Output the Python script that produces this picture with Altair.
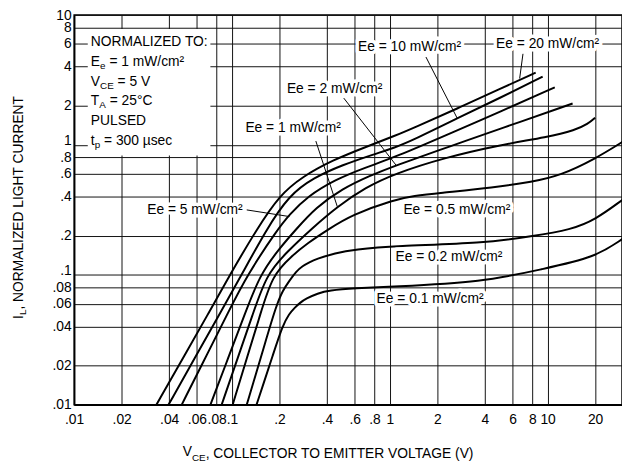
import altair as alt
import pandas as pd

FONT = "Liberation Sans, Arial, Helvetica, sans-serif"

# ---------------- axis ticks ----------------
x_ticks = [0.01, 0.02, 0.04, 0.06, 0.08, 0.1, 0.2, 0.4, 0.6, 0.8, 1, 2, 4, 6, 8, 10, 20]
y_ticks = [0.01, 0.02, 0.04, 0.06, 0.08, 0.1, 0.2, 0.4, 0.6, 0.8, 1, 2, 4, 6, 8, 10]

# ---------------- curves (VCE in V, normalized IL) ----------------
ee_names = ["20", "10", "5", "2", "1", "0.5", "0.2", "0.1"]

vce_20 = [0.0332, 0.05, 0.07, 0.097, 0.143, 0.2, 0.28, 0.43, 0.73, 1.07, 1.43, 2.67, 5.0, 8.4]
il_20 = [0.01, 0.024, 0.049, 0.1, 0.223, 0.41, 0.57, 0.76, 0.98, 1.17, 1.36, 1.9, 2.7, 3.6]

vce_10 = [0.0396, 0.06, 0.085, 0.115, 0.165, 0.23, 0.33, 0.5, 0.8, 1.07, 1.43, 2.67, 5.0, 9.3]
il_10 = [0.01, 0.0245, 0.052, 0.1, 0.223, 0.41, 0.56, 0.70, 0.85, 0.95, 1.1, 1.6, 2.3, 3.35]

vce_5 = [0.048, 0.07, 0.095, 0.125, 0.194, 0.231, 0.3, 0.45, 0.7, 1.07, 2.5, 5.0, 11.1]
il_5 = [0.01, 0.0248, 0.052, 0.1, 0.223, 0.29, 0.40, 0.54, 0.67, 0.80, 1.25, 1.8, 2.77]

vce_2 = [0.073, 0.095, 0.12, 0.15, 0.2, 0.254, 0.34, 0.5, 0.75, 1.07, 2.5, 5.0, 14.4]
il_2 = [0.01, 0.0232, 0.049, 0.1, 0.16, 0.223, 0.33, 0.46, 0.58, 0.69, 0.99, 1.33, 2.08]

vce_1 = [0.086, 0.11, 0.135, 0.165, 0.22, 0.324, 0.465, 0.7, 1.07, 2.24, 5.0, 10.0, 15.0, 18.0, 20.0]
il_1 = [0.01, 0.0239, 0.049, 0.1, 0.148, 0.23, 0.335, 0.47, 0.6, 0.8, 1.0, 1.15, 1.3, 1.45, 1.62]

vce_05 = [0.101, 0.125, 0.15, 0.18, 0.24, 0.3, 0.41, 0.575, 1.07, 1.43, 2.0, 4.6, 8.0, 12.0, 20.0, 30.0]
il_05 = [0.01, 0.0234, 0.048, 0.1, 0.14, 0.175, 0.225, 0.29, 0.38, 0.405, 0.425, 0.47, 0.52, 0.58, 0.78, 1.06]

vce_02 = [0.124, 0.14, 0.16, 0.191, 0.21, 0.231, 0.255, 0.28, 0.31, 0.34, 0.45, 0.6, 1.07, 3.92, 8.0, 14.1, 20.0, 30.0]
il_02 = [0.01, 0.0164, 0.0283, 0.0584, 0.076, 0.09, 0.106, 0.117, 0.125, 0.132, 0.147, 0.157, 0.167, 0.175, 0.198, 0.223, 0.265, 0.38]

vce_01 = [0.143, 0.16, 0.18, 0.21, 0.23, 0.25, 0.27, 0.294, 0.35, 0.41, 0.604, 1.0, 3.92, 9.3, 20.0, 30.0]
il_01 = [0.01, 0.0151, 0.0233, 0.0412, 0.05, 0.056, 0.061, 0.0656, 0.072, 0.0759, 0.079, 0.081, 0.088, 0.111, 0.136, 0.19]

curve_v = [vce_20, vce_10, vce_5, vce_2, vce_1, vce_05, vce_02, vce_01]
curve_i = [il_20, il_10, il_5, il_2, il_1, il_05, il_02, il_01]

# ---------------- curve labels ----------------
label_text = ["Ee = 20 mW/cm²", "Ee = 10 mW/cm²", "Ee = 5 mW/cm²", "Ee = 2 mW/cm²",
              "Ee = 1 mW/cm²", "Ee = 0.5 mW/cm²", "Ee = 0.2 mW/cm²", "Ee = 0.1 mW/cm²"]
label_v = [10.0, 1.334, 0.0583, 0.447, 0.244, 2.66, 2.37, 1.80]
label_i = [5.96, 5.65, 0.316, 2.71, 1.35, 0.316, 0.137, 0.0656]

# leader lines (from label to curve)
ptr_v0 = [6.98, 1.695, 0.124, 0.511, 0.34]
ptr_i0 = [5.02, 4.74, 0.316, 2.29, 1.07]
ptr_v1 = [6.65, 2.67, 0.231, 1.10, 0.465]
ptr_i1 = [3.24, 1.61, 0.281, 0.694, 0.335]

# ---------------- conditions box ----------------
box_v = [0.0122, 0.073]
box_i = [0.83, 7.8]
legend_v = 0.01276
legend_i = [6.17, 4.35, 3.06, 2.16, 1.52, 1.07]
legend_main = ["NORMALIZED TO:", "E", "V", "T", "PULSED", "t"]
legend_sub = ["", "e", "CE", "A", "", "p"]
legend_rest = ["", "= 1 mW/cm²", "= 5 V", "= 25°C", "", "= 300 µsec"]

# axis titles (main, subscript, rest)
ytitle = ["I", "L", ", NORMALIZED LIGHT CURRENT"]
xtitle = ["V", "CE", ", COLLECTOR TO EMITTER VOLTAGE (V)"]

# ---------------- helpers ----------------
EM = {"E": 0.667, "V": 0.667, "T": 0.611, "t": 0.278, "I": 0.278, "e": 0.556,
      "C": 0.722, "A": 0.667, "p": 0.556, "L": 0.556, " ": 0.278}


def tw(s, size):
    return sum(EM.get(c, 0.556) for c in s) * size


rows = []
for name, vs, iz in zip(ee_names, curve_v, curve_i):
    for k, (v, i) in enumerate(zip(vs, iz)):
        rows.append({"ee": name, "v": v, "i": i, "k": k})
curves_df = pd.DataFrame(rows)

xs = alt.Scale(type="log", domain=[0.01, 29.6], nice=False)
ys = alt.Scale(type="log", domain=[0.01, 10], nice=False)

lab_expr = "datum.value < 1 ? substring(format(datum.value, ''), 1) : format(datum.value, '')"

x_axis = alt.Axis(values=x_ticks, labelExpr=lab_expr, grid=True, ticks=False,
                  labelFlush=False, labelOverlap=False, labelPadding=8,
                  labelFontSize=14, labelFont=FONT, labelColor="black", title=None,
                  domainColor="black", domainWidth=1.5,
                  gridColor="#111111", gridWidth=1, gridOpacity=1)
y_axis = alt.Axis(values=y_ticks, labelExpr=lab_expr, grid=True, ticks=False,
                  labelFlush=False, labelOverlap=False, labelPadding=3,
                  labelFontSize=14, labelFont=FONT, labelColor="black", title=None,
                  labelOffset={"condition": [
                      {"test": "datum.value == 10", "value": 1},
                      {"test": "datum.value == 1 || datum.value == 0.1", "value": -4},
                  ], "value": 0},
                  domainColor="black", domainWidth=1.5,
                  gridColor="#111111", gridWidth=1, gridOpacity=1)


def X(field):
    return alt.X(field, scale=xs, axis=x_axis)


def Y(field):
    return alt.Y(field, scale=ys, axis=y_axis)


box = alt.Chart(pd.DataFrame({"v0": [box_v[0]], "v1": [box_v[1]],
                              "i0": [box_i[0]], "i1": [box_i[1]]})).mark_rect(
    color="white").encode(x=X("v0:Q"), x2="v1:Q", y=Y("i0:Q"), y2="i1:Q")

lines = alt.Chart(curves_df).mark_line(color="black", strokeWidth=2,
                                       interpolate="basis", clip=True).encode(
    x=X("v:Q"), y=Y("i:Q"), detail="ee:N", order="k:Q")

ptr_df = pd.DataFrame({"v0": ptr_v0, "i0": ptr_i0, "v1": ptr_v1, "i1": ptr_i1})
pointers = alt.Chart(ptr_df).mark_rule(color="black", strokeWidth=1).encode(
    x=X("v0:Q"), x2="v1:Q", y=Y("i0:Q"), y2="i1:Q")

lab_df = pd.DataFrame({"t": label_text, "v": label_v, "i": label_i})
lab_base = alt.Chart(lab_df).encode(x=X("v:Q"), y=Y("i:Q"), text="t:N")
halo = lab_base.mark_text(font=FONT, fontSize=14, align="center", baseline="middle",
                          color="white", stroke="white", strokeWidth=7, strokeJoin="round")
labels = lab_base.mark_text(font=FONT, fontSize=14, align="center", baseline="middle",
                            color="black")

legend_layers = []
for main, sub, rest, iv in zip(legend_main, legend_sub, legend_rest, legend_i):
    base = alt.Chart(pd.DataFrame({"v": [legend_v], "i": [iv]})).encode(
        x=X("v:Q"), y=Y("i:Q"))
    legend_layers.append(base.mark_text(text=main, font=FONT, fontSize=14, align="left",
                                        baseline="middle", color="black"))
    if sub:
        dx1 = tw(main, 14)
        legend_layers.append(base.mark_text(text=sub, font=FONT, fontSize=10, align="left",
                                            baseline="middle", color="black", dx=dx1, dy=4))
        dx2 = dx1 + tw(sub, 10) + tw(" ", 14)
        legend_layers.append(base.mark_text(text=rest, font=FONT, fontSize=14, align="left",
                                            baseline="middle", color="black", dx=dx2))

one = pd.DataFrame({"k": [0]})


def ptext(txt, x, y, size, angle=0):
    return alt.Chart(one).mark_text(text=txt, font=FONT, fontSize=size, align="left",
                                    baseline="middle", angle=angle, color="black").encode(
        x=alt.value(x), y=alt.value(y))


# y title (rotated, reading upwards)
yx, yb = -56, 308
y_parts = [
    ptext(ytitle[0], yx, yb, 14, 270),
    ptext(ytitle[1], yx + 4, yb - tw(ytitle[0], 14), 10, 270),
    ptext(ytitle[2], yx, yb - tw(ytitle[0], 14) - tw(ytitle[1], 10), 14, 270),
]
# x title
xx, xy = 110, 445
x_parts = [
    ptext(xtitle[0], xx, xy - 2, 14),
    ptext(xtitle[1], xx + tw(xtitle[0], 14), xy + 4, 10),
    ptext(xtitle[2], xx + tw(xtitle[0], 14) + tw(xtitle[1], 10), xy, 14),
]

chart = alt.layer(box, lines, pointers, halo, labels, *legend_layers, *y_parts, *x_parts).properties(
    width=555, height=395,
    padding={"left": 67, "top": 4, "right": 0, "bottom": 62},
    autosize=alt.AutoSizeParams(type="none"),
).configure_view(stroke="black", strokeWidth=1.5)

chart.save("out.html", embed_options={"renderer": "svg", "actions": False})
